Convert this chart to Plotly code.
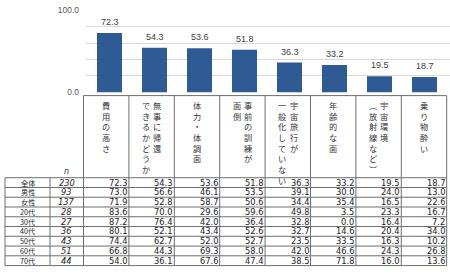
import plotly.graph_objects as go

# ---------------- data ----------------
categories = ["費用の高さ", "無事に帰還|できるかどうか", "体力・体調面", "事前の訓練が|面倒",
              "宇宙旅行が|一般化していない", "年齢的な面", "宇宙環境|︵放射線など︶", "乗り物酔い"]
overall = [72.3, 54.3, 53.6, 51.8, 36.3, 33.2, 19.5, 18.7]

row_labels = ["全体", "男性", "女性", "20代", "30代", "40代", "50代", "60代", "70代"]
row_n = [230, 93, 137, 28, 27, 36, 43, 51, 44]
table_values = [
    [72.3, 54.3, 53.6, 51.8, 36.3, 33.2, 19.5, 18.7],
    [73.0, 56.6, 46.1, 53.5, 39.1, 30.0, 24.0, 13.0],
    [71.9, 52.8, 58.7, 50.6, 34.4, 35.4, 16.5, 22.6],
    [83.6, 70.0, 29.6, 59.6, 49.8, 3.5, 23.3, 16.7],
    [87.2, 76.4, 42.0, 36.4, 32.8, 0.0, 16.4, 7.2],
    [80.1, 52.1, 43.4, 52.6, 32.7, 14.6, 20.4, 34.0],
    [74.4, 62.7, 52.0, 52.7, 23.5, 33.5, 16.3, 10.2],
    [66.8, 44.3, 69.3, 58.0, 42.0, 46.6, 24.3, 26.8],
    [54.0, 36.1, 67.6, 47.4, 38.5, 71.8, 16.0, 13.6],
]
y_ticks = [0, 20, 40, 60, 80, 100]
y_ticktext = ["0.0", "", "", "", "", "100.0"]

# ---------------- layout helpers ----------------
W, H = 450, 276
def px(x):
    return x / W
def py(y):
    return 1 - y / H

CJK = "Noto Sans CJK JP"
NUM = "DejaVu Sans"
col_x0, col_w = 83.5, 45.4
hdr_top = 94.0
row_top, row_h = 179.2, 10.13
n_rows = len(row_labels)
tbl_bottom = row_top + row_h * n_rows
tbl_right = col_x0 + col_w * len(categories)

xs = list(range(len(categories)))
fig = go.Figure()
fig.add_trace(go.Bar(
    x=xs, y=overall,
    marker=dict(color="#2F5B94", line=dict(width=0)),
    hoverinfo="skip",
))

# x axis: 45 px per category, first centre at 109.5 px
dom_l, dom_r = 86, 450
unit = 45.0
r0 = -(109.5 - dom_l) / unit
r1 = r0 + (dom_r - dom_l) / unit

shapes = []
annotations = []
line_col = "#6E6E6E"

# bar value labels
for xi, v in zip(xs, overall):
    annotations.append(dict(xref="x", yref="y", x=xi, y=v, yanchor="bottom", yshift=4,
                            showarrow=False, text=f"{v:.1f}",
                            font=dict(family="Liberation Sans", size=9, color="#404040")))

# vertical column lines of the table
for k in range(len(categories) + 1):
    x = col_x0 + col_w * k
    shapes.append(dict(type="line", xref="paper", yref="paper",
                       x0=px(x), x1=px(x), y0=py(hdr_top), y1=py(tbl_bottom),
                       line=dict(color=line_col, width=1)))
# header top line
shapes.append(dict(type="line", xref="paper", yref="paper",
                   x0=px(col_x0), x1=px(tbl_right), y0=py(hdr_top), y1=py(hdr_top),
                   line=dict(color=line_col, width=1)))
# row lines
for r in range(n_rows + 1):
    y = row_top + row_h * r
    shapes.append(dict(type="line", xref="paper", yref="paper",
                       x0=px(5), x1=px(tbl_right), y0=py(y), y1=py(y),
                       line=dict(color=line_col, width=1)))
for x in (5, 50):
    shapes.append(dict(type="line", xref="paper", yref="paper",
                       x0=px(x), x1=px(x), y0=py(row_top), y1=py(tbl_bottom),
                       line=dict(color=line_col, width=1)))

# vertical category headers (Japanese vertical writing, columns right-to-left)
for i, cat in enumerate(categories):
    cols = cat.split("|")
    cx = col_x0 + col_w * (i + 0.5)
    offs = [0] if len(cols) == 1 else [5.8, -5.8]
    for part, off in zip(cols, offs):
        annotations.append(dict(
            xref="paper", yref="paper", x=px(cx + off), y=py(hdr_top + 1),
            xanchor="center", yanchor="top", showarrow=False,
            text="<br>".join(list(part)),
            font=dict(family=CJK, size=8.2, color="#333333")))

# n header
annotations.append(dict(xref="paper", yref="paper", x=px(66), y=py(173),
                        xanchor="center", yanchor="middle", showarrow=False,
                        text="<i>n</i>", font=dict(family=NUM, size=8, color="#333333")))

for r in range(n_rows):
    yc = row_top + row_h * (r + 0.5)
    annotations.append(dict(xref="paper", yref="paper", x=px(27.5), y=py(yc),
                            xanchor="center", yanchor="middle", showarrow=False,
                            text=row_labels[r], borderpad=0,
                            font=dict(family=CJK, size=7.2, color="#222222")))
    annotations.append(dict(xref="paper", yref="paper", x=px(66.5), y=py(yc),
                            xanchor="center", yanchor="middle", showarrow=False,
                            text=f"<i>{row_n[r]}</i>", borderpad=0,
                            font=dict(family=NUM, size=8.3, color="#222222")))
    for c, v in enumerate(table_values[r]):
        xr = col_x0 + col_w * (c + 1) - 1
        annotations.append(dict(xref="paper", yref="paper", x=px(xr), y=py(yc),
                                xanchor="right", yanchor="middle", showarrow=False,
                                text=f"{v:.1f}", borderpad=0,
                                font=dict(family=NUM, size=8.3, color="#222222")))

fig.update_layout(
    width=W, height=H, margin=dict(l=0, r=0, t=0, b=0),
    paper_bgcolor="white", plot_bgcolor="white",
    showlegend=False, bargap=0.444,
    xaxis=dict(domain=[px(dom_l), px(dom_r)], range=[r0, r1],
               showticklabels=False, showgrid=False, zeroline=False, showline=False, ticks=""),
    yaxis=dict(domain=[py(90.7), py(5.3)], range=[0, 100],
               tickvals=y_ticks, ticktext=y_ticktext,
               tickfont=dict(family="Liberation Sans", size=8.5, color="#595959"),
               showgrid=True, gridcolor="#D9D9D9", gridwidth=1,
               zeroline=False, showline=False, ticks="", ticklabelstandoff=6),
    shapes=shapes, annotations=annotations,
)

fig.write_html("out.html")
